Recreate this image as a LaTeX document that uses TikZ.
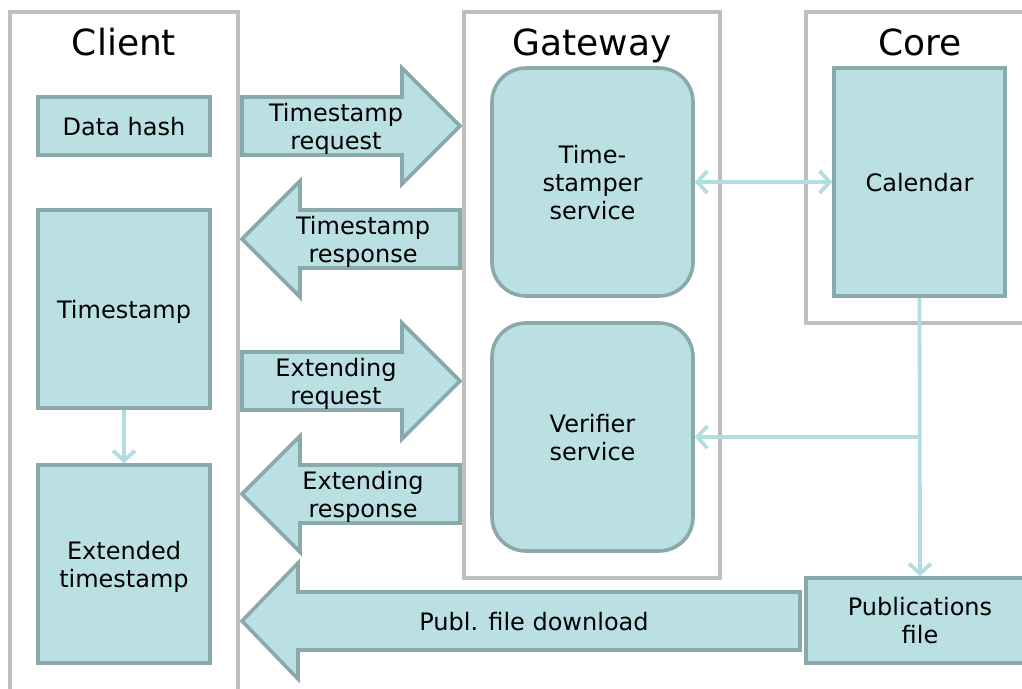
\documentclass[tikz,border=0pt]{standalone}
\usepackage{fontspec}
\setmainfont{DejaVu Sans}
\usetikzlibrary{arrows.meta, calc}
\definecolor{boxfill}{HTML}{BBE0E3}
\definecolor{boxline}{HTML}{8BA8AA}
\definecolor{framec}{HTML}{BFBFBF}
\definecolor{linkc}{HTML}{B4DDE1}
\tikzstyle{box} = [draw=boxline, fill=boxfill, line width=3.6pt, rectangle, align=center]
\tikzstyle{service} = [box, rounded corners=34pt]
\tikzstyle{frame} = [draw=framec, line width=3.6pt]
\tikzstyle{title} = [font=\fontsize{36}{40}\selectfont, anchor=base]
\tikzstyle{fat} = [draw=boxline, fill=boxfill, line width=3.6pt, line join=miter]
\tikzstyle{link} = [draw=linkc, line width=3.8pt]
% #1 name, #2 tail x, #3 head base x, #4 tip x, #5 y, #6 text x, #7 text
\newcommand{\fatarrow}[7]{%
  \draw[fat] (#2,#5-29) -- (#3,#5-29) -- (#3,#5-58) -- (#4,#5) -- (#3,#5+58)
    -- (#3,#5+29) -- (#2,#5+29) -- cycle;
  \node[align=center] (#1) at (#6,#5) {#7};
}

\begin{document}
\begin{tikzpicture}[x=1pt, y=-1pt, >={Straight Barb[length=10pt,width=22pt]},
  every node/.style={font=\fontsize{24}{28}\selectfont, inner sep=0pt, text depth=0pt}]
  \useasboundingbox (0,0) rectangle (1022,688);
  \clip (0,0) rectangle (1022,688);
  % frames
  \draw[frame] (10,12) rectangle (238,710);
  \draw[frame] (464,12) rectangle (720,578);
  \draw[frame] (806,12) rectangle (1050,323);
  \node[title] (client) at (124,55) {Client};
  \node[title] (gateway) at (592,55) {Gateway};
  \node[title] (core) at (920,55) {Core};
  % client side
  \node [box, minimum width=172, minimum height=58] (hash) at (124,126) {Data hash};
  \node [box, minimum width=172, minimum height=198] (stamp) at (124,309) {Timestamp};
  \node [box, minimum width=172, minimum height=198] (ext) at (124,564) {Extended\\timestamp};
  % gateway
  \node [service, minimum width=201, minimum height=228] (tss) at (592.5,182) {Time-\\stamper\\service};
  \node [service, minimum width=201, minimum height=228] (ver) at (592.5,437) {Verifier\\service};
  % core
  \node [box, minimum width=171, minimum height=228] (cal) at (919.5,182) {Calendar};
  \node [box, minimum width=228, minimum height=85] (pub) at (920,620.5) {Publications\\file};
  % messages
  \fatarrow{treq}{242}{402}{460}{126}{336}{Timestamp\\request}
  \fatarrow{tresp}{460}{300}{242}{239}{363}{Timestamp\\response}
  \fatarrow{ereq}{242}{402}{460}{381}{336}{Extending\\request}
  \fatarrow{eresp}{460}{300}{242}{494}{363}{Extending\\response}
  \fatarrow{dl}{800}{298}{242}{621}{534}{Publ. file download}
  % connectors
  \draw[link, ->] (stamp) -- (ext);
  \draw[link, <->] (tss) -- (cal);
  \draw[link, ->] (cal.south) -- (pub.north);
  \coordinate (branch) at (cal.south |- ver.east);
  \draw[link, ->] (branch) -- (ver.east);
\end{tikzpicture}
\end{document}
